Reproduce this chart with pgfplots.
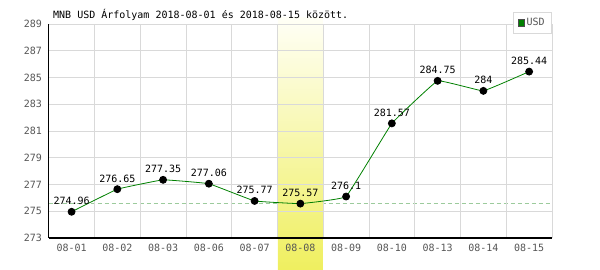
\documentclass[border=0pt]{standalone}
\usepackage{fontspec}
\setmainfont{DejaVu Sans Mono}
\usepackage{pgfplots}
\pgfplotsset{compat=1.18}
\definecolor{gridc}{HTML}{D9D9D9}
\definecolor{linec}{HTML}{008000}
\definecolor{dashc}{HTML}{9CCB9C}
\definecolor{hlbot}{HTML}{EFEF5F}
\definecolor{hltop}{HTML}{FFFFF6}
\definecolor{tickc}{HTML}{555555}
\pgfplotsset{layers/mylayers/.define layer set={axis background,axis grid,pre main,axis ticks,axis lines,axis tick labels,main,axis descriptions,axis foreground}{}}
\newcommand{\chartfont}{\fontsize{10bp}{11bp}\selectfont}
\begin{document}
\begin{tikzpicture}
\begin{axis}[
  set layers=mylayers,
  at={(48.7bp,32bp)}, anchor=south west,
  scale only axis, width=503.3bp, height=214bp,
  xmin=-0.5, xmax=10.5, ymin=273, ymax=289,
  clip=false,
  axis x line*=bottom, axis y line*=left,
  axis line style={black, line width=1.5bp, -},
  xtick={0,...,10},
  xticklabels={08-01,08-02,08-03,08-06,08-07,08-08,08-09,08-10,08-13,08-14,08-15},
  minor xtick={0.5,1.5,...,10.5},
  xminorgrids=true, xmajorgrids=false,
  ytick={273,275,...,289},
  ymajorgrids=true,
  grid style={gridc, line width=0.8bp},
  minor grid style={gridc, line width=0.8bp},
  major tick length=0pt, minor tick length=0pt,
  tick style={draw=none},
  /pgf/number format/assume math mode=true,
  yticklabel style={font=\chartfont, text=tickc, anchor=east, inner sep=0pt, xshift=-6.5bp},
  xticklabel style={font=\chartfont, text=tickc, anchor=north, inner sep=0pt, yshift=-6bp},
  legend style={at={(1,1.056)}, anchor=north east, draw=gridc, fill=white, font=\chartfont, text=tickc, inner xsep=5bp, inner ysep=4bp, line width=0.8bp},
  legend cell align=left,
]
\addlegendimage{only marks, mark=square*, mark size=3.3bp, mark options={fill=green!50!black, draw=black!70}}
\addlegendentry{USD}
\addplot[dashc, line width=0.8bp, dash pattern=on 4bp off 3bp, on layer=pre main, forget plot] coordinates {(-0.5,275.57) (10.5,275.57)};
\addplot[draw=none, top color=hltop, bottom color=hlbot, on layer=pre main, forget plot] coordinates {(4.51,270.62) (5.49,270.62) (5.49,289.45) (4.51,289.45)} -- cycle;
\addplot[linec, line width=0.8bp, smooth, tension=0.12, mark=*, mark size=3.5bp,
  mark options={fill=black, draw=black, solid},
  point meta=explicit symbolic, nodes near coords,
  nodes near coords style={font=\chartfont, text=black, anchor=south, inner sep=0pt, yshift=6.5bp},
  forget plot] coordinates {
  (0,274.96) [274.96]
  (1,276.65) [276.65]
  (2,277.35) [277.35]
  (3,277.06) [277.06]
  (4,275.77) [275.77]
  (5,275.57) [275.57]
  (6,276.1) [276.1]
  (7,281.57) [281.57]
  (8,284.75) [284.75]
  (9,284) [284]
  (10,285.44) [285.44]
};
\end{axis}
\node[anchor=west, inner sep=0pt, font=\chartfont] at (53bp,255bp) {MNB USD Árfolyam 2018-08-01 és 2018-08-15 között.};
\path (0bp,0bp) rectangle (600bp,270bp);
\end{tikzpicture}
\end{document}
